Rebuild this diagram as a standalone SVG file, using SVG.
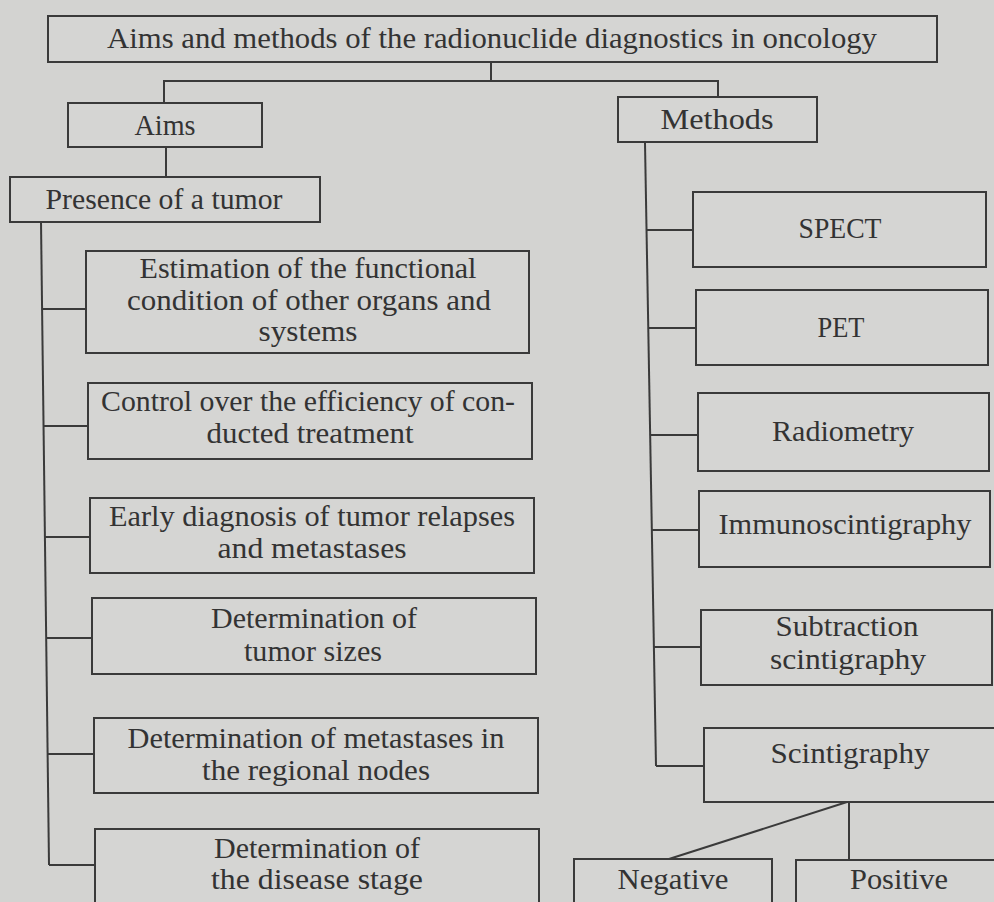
<svg xmlns="http://www.w3.org/2000/svg" width="994" height="902" viewBox="0 0 994 902">
<style>
.bg{fill:#d3d3d1}
.box{fill:#d5d5d3;stroke:#3a3a3a;stroke-width:2}
.ln{fill:none;stroke:#3a3a3a;stroke-width:2}
text{font-family:"Liberation Serif","Times New Roman",serif;font-size:29px;fill:#333;text-anchor:middle}
</style>
<rect class="bg" x="0" y="0" width="994" height="902"/>
<g id="connectors">
<path class="ln" d="M491 62V81M164 103V81H718V97"/>
<path class="ln" d="M166 147V177"/>
<path class="ln" d="M41 222L49 865"/>
<path class="ln" d="M42 309H86M43 426H88M44 537H90M46 638H92M47 754H94M49 865H95"/>
<path class="ln" d="M645 143L656 766"/>
<path class="ln" d="M646 230H693M648 328H696M650 435H698M651 530H699M653 647H701M656 766H704"/>
<path class="ln" d="M847 802L669 859M849 802V860"/>
</g>
<g id="title"><rect class="box" x="48" y="16" width="889" height="46"/><text x="492" y="48" textLength="770" lengthAdjust="spacingAndGlyphs">Aims and methods of the radionuclide diagnostics in oncology</text></g>
<g id="aims"><rect class="box" x="68" y="103" width="194" height="44"/><text x="165" y="135" textLength="61" lengthAdjust="spacingAndGlyphs">Aims</text></g>
<g id="methods"><rect class="box" x="618" y="97" width="199" height="45"/><text x="717" y="129" textLength="113" lengthAdjust="spacingAndGlyphs">Methods</text></g>
<g id="presence"><rect class="box" x="10" y="177" width="310" height="45"/><text x="164" y="209" textLength="237" lengthAdjust="spacingAndGlyphs">Presence of a tumor</text></g>
<g id="estimation"><rect class="box" x="86" y="251" width="443" height="102"/><text x="308" y="278" textLength="337" lengthAdjust="spacingAndGlyphs">Estimation of the functional</text><text x="309" y="310" textLength="364" lengthAdjust="spacingAndGlyphs">condition of other organs and</text><text x="308" y="341" textLength="99" lengthAdjust="spacingAndGlyphs">systems</text></g>
<g id="control"><rect class="box" x="88" y="383" width="444" height="76"/><text x="308" y="411" textLength="414" lengthAdjust="spacingAndGlyphs">Control over the efficiency of con-</text><text x="310" y="443" textLength="207" lengthAdjust="spacingAndGlyphs">ducted treatment</text></g>
<g id="early"><rect class="box" x="90" y="498" width="444" height="75"/><text x="312" y="526" textLength="406" lengthAdjust="spacingAndGlyphs">Early diagnosis of tumor relapses</text><text x="312" y="558" textLength="189" lengthAdjust="spacingAndGlyphs">and metastases</text></g>
<g id="sizes"><rect class="box" x="92" y="598" width="444" height="76"/><text x="314" y="628" textLength="206" lengthAdjust="spacingAndGlyphs">Determination of</text><text x="313" y="661" textLength="138" lengthAdjust="spacingAndGlyphs">tumor sizes</text></g>
<g id="metastases"><rect class="box" x="94" y="718" width="444" height="75"/><text x="316" y="748" textLength="377" lengthAdjust="spacingAndGlyphs">Determination of metastases in</text><text x="316" y="780" textLength="228" lengthAdjust="spacingAndGlyphs">the regional nodes</text></g>
<g id="stage"><rect class="box" x="95" y="829" width="444" height="82"/><text x="317" y="858" textLength="206" lengthAdjust="spacingAndGlyphs">Determination of</text><text x="317" y="889" textLength="212" lengthAdjust="spacingAndGlyphs">the disease stage</text></g>
<g id="spect"><rect class="box" x="693" y="192" width="293" height="75"/><text x="840" y="238" textLength="83" lengthAdjust="spacingAndGlyphs">SPECT</text></g>
<g id="pet"><rect class="box" x="696" y="290" width="292" height="75"/><text x="841" y="337" textLength="47" lengthAdjust="spacingAndGlyphs">PET</text></g>
<g id="radiometry"><rect class="box" x="698" y="393" width="291" height="78"/><text x="843" y="441" textLength="142" lengthAdjust="spacingAndGlyphs">Radiometry</text></g>
<g id="immuno"><rect class="box" x="699" y="491" width="291" height="76"/><text x="845" y="534" textLength="253" lengthAdjust="spacingAndGlyphs">Immunoscintigraphy</text></g>
<g id="subtraction"><rect class="box" x="701" y="610" width="291" height="75"/><text x="847" y="636" textLength="143" lengthAdjust="spacingAndGlyphs">Subtraction</text><text x="848" y="669" textLength="156" lengthAdjust="spacingAndGlyphs">scintigraphy</text></g>
<g id="scintigraphy"><rect class="box" x="704" y="728" width="294" height="74"/><text x="850" y="763" textLength="159" lengthAdjust="spacingAndGlyphs">Scintigraphy</text></g>
<g id="negative"><rect class="box" x="574" y="859" width="198" height="52"/><text x="673" y="889" textLength="111" lengthAdjust="spacingAndGlyphs">Negative</text></g>
<g id="positive"><rect class="box" x="796" y="860" width="202" height="52"/><text x="899" y="889" textLength="98" lengthAdjust="spacingAndGlyphs">Positive</text></g>
</svg>
